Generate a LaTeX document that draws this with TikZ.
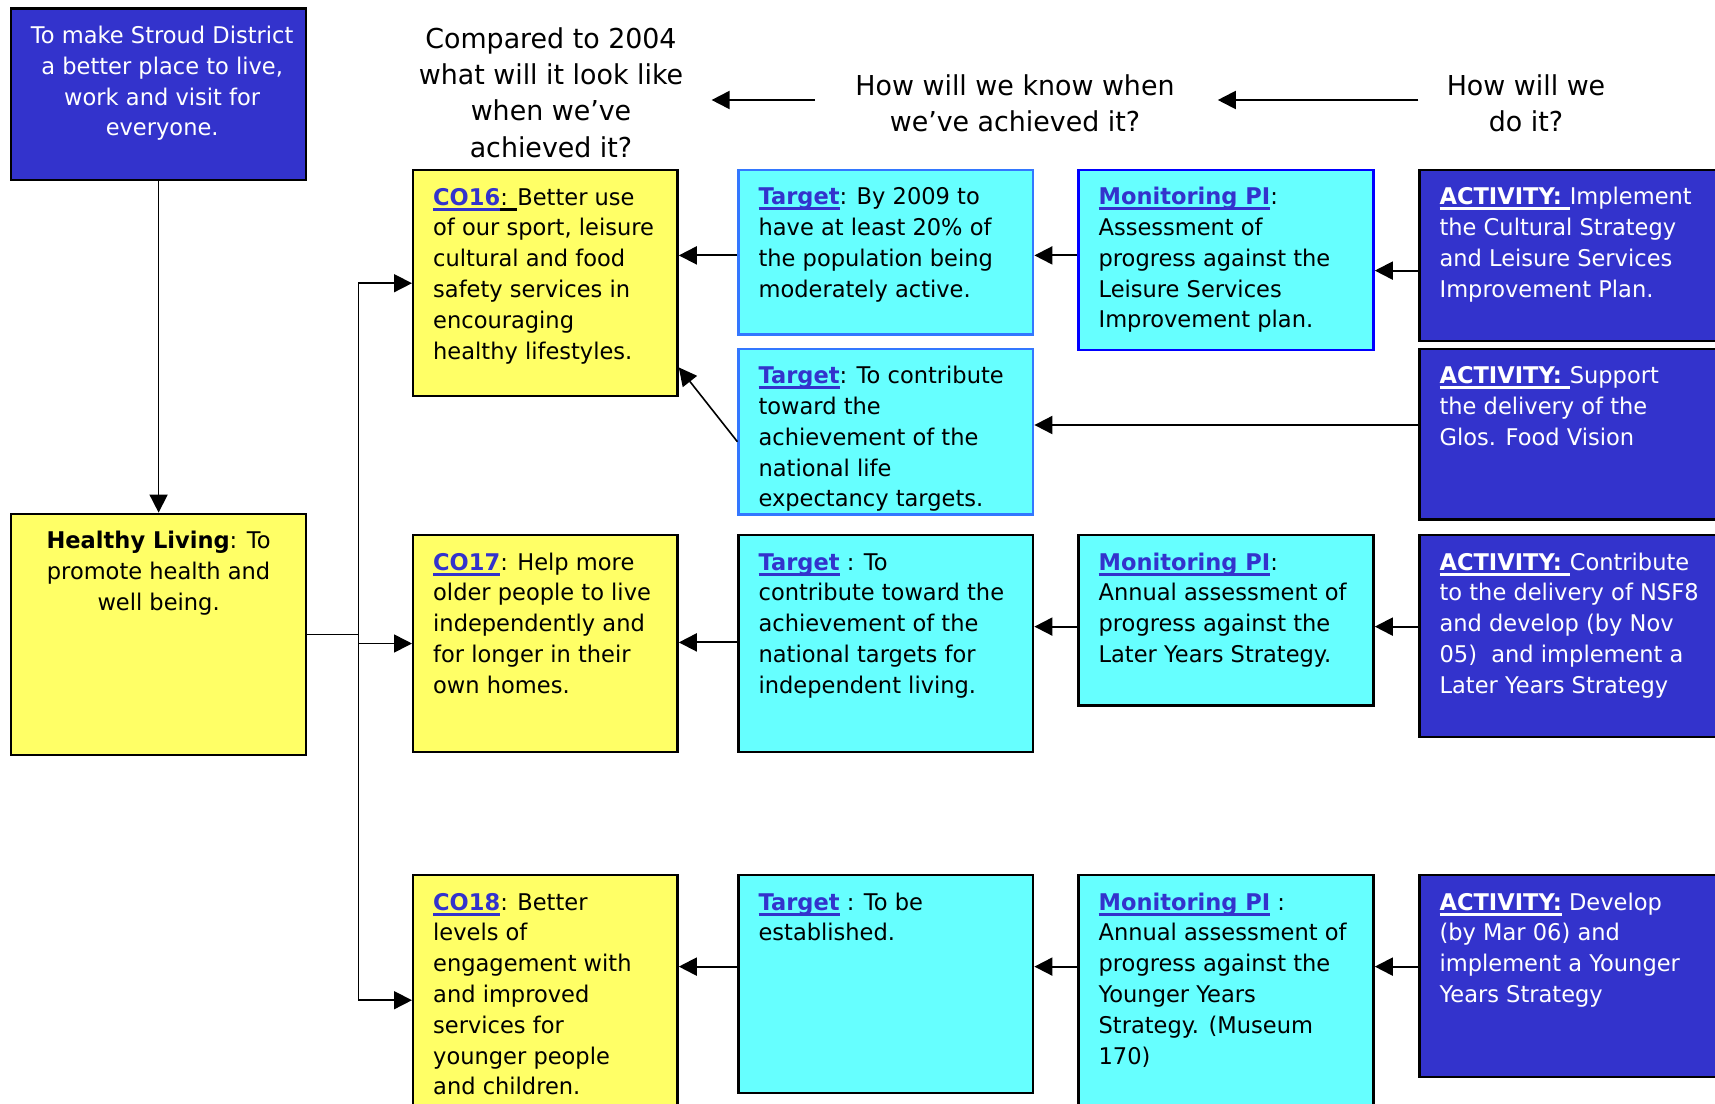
\documentclass[tikz,border=0pt]{standalone}
\usepackage{fontspec}
\setmainfont{DejaVu Sans}[FakeStretch=0.98]
\usetikzlibrary{arrows.meta}
\definecolor{actblue}{HTML}{3333CC}
\definecolor{yel}{HTML}{FFFF66}
\definecolor{cyn}{HTML}{66FFFF}
\definecolor{tgtborder}{HTML}{3377FF}
\definecolor{monborder}{HTML}{0000FF}
\newcommand\myul[1]{\setbox0=\hbox{#1}\leavevmode\rlap{\rule[-2.7pt]{\wd0}{1.4pt}}\box0}
\newcommand\lk[1]{{\color{actblue}\myul{\textbf{#1}}}}
\newcommand\act{\textbf{\myul{ACTIVITY:\ }}}
% name, style, x1, y1, x2, y2, column type, lines
\newcommand\mkbox[8]{%
  \node[#2, anchor=north west, inner xsep=10pt, inner ysep=0pt] (#1) at (#3,#4)
  {\parbox[c][\dimexpr #6pt-#4pt\relax][t]{\dimexpr #5pt-#3pt-20pt\relax}{\if c#7\centering\fi\vspace*{6.7pt}\begin{tabular}[t]{@{}#7@{}}#8\end{tabular}}};}
\tikzset{
  boxbase/.style={rectangle, draw, line width=1.2pt, font=\fontsize{11.5}{15.4}\selectfont},
  goalbox/.style={boxbase, fill=actblue, text=white, draw=black},
  yelbox/.style={boxbase, fill=yel},
  cynbox/.style={boxbase, fill=cyn},
  tgtbox/.style={cynbox, draw=tgtborder},
  monbox/.style={cynbox, draw=monborder},
  actbox/.style={boxbase, fill=actblue, text=white},
  hdr/.style={font=\fontsize{13.7}{18.1}\selectfont, inner sep=0pt, anchor=base},
  arr/.style={-{Triangle[length=9pt,width=9pt]}, line width=1pt},
  thinln/.style={line width=0.8pt},
}
\begin{document}
\begin{tikzpicture}[x=1pt,y=-1pt]
\useasboundingbox (0,0) rectangle (857.5,552);
% headers
\node[hdr] (h1) at (275.5,24.2) {\begin{tabular}[t]{@{}c@{}}Compared to 2004\\ what will it look like\\ when we’ve\\ achieved it?\end{tabular}};
\node[hdr] (h2) at (507.5,47.5) {\begin{tabular}[t]{@{}c@{}}How will we know when\\ we’ve achieved it?\end{tabular}};
\node[hdr] (h3) at (763,47.5) {\begin{tabular}[t]{@{}c@{}}How will we\\ do it?\end{tabular}};
\coordinate (h1from) at (407.5,50);
\coordinate (h1to) at (355.8,50);
\coordinate (h2from) at (709.2,50);
\coordinate (h2to) at (608.9,50);
\draw[arr] (h1from) -- (h1to);
\draw[arr] (h2from) -- (h2to);
% boxes
\mkbox{top}{goalbox}{4.9}{3.7}{152.5}{89.5}{c}{To make Stroud District\\ a better place to live,\\ work and visit for\\ everyone.}
\mkbox{HL}{yelbox}{4.9}{256.3}{152.5}{377}{c}{\textbf{Healthy Living}: To\\ promote health and\\ well being.}
\mkbox{CO16}{yelbox}{206}{84.5}{338.2}{197.5}{l}{\lk{CO16}\myul{: }Better use\\ of our sport, leisure\\ cultural and food\\ safety services in\\ encouraging\\ healthy lifestyles.}
\mkbox{CO17}{yelbox}{206}{267}{338.2}{375.3}{l}{\lk{CO17}: Help more\\ older people to live\\ independently and\\ for longer in their\\ own homes.}
\mkbox{CO18}{yelbox}{206}{437}{338.2}{562}{l}{\lk{CO18}: Better\\ levels of\\ engagement with\\ and improved\\ services for\\ younger people\\ and children.}
\mkbox{T1}{tgtbox}{368.7}{84.3}{516}{166.7}{l}{\lk{Target}: By 2009 to\\ have at least 20\% of\\ the population being\\ moderately active.}
\mkbox{T2}{tgtbox}{368.7}{173.8}{516}{256.7}{l}{\lk{Target}: To contribute\\ toward the\\ achievement of the\\ national life\\ expectancy targets.}
\mkbox{T3}{cynbox}{368.7}{267}{516}{375.5}{l}{\lk{Target} : To\\ contribute toward the\\ achievement of the\\ national targets for\\ independent living.}
\mkbox{T4}{cynbox}{368.7}{437}{516}{545.8}{l}{\lk{Target} : To be\\ established.}
\mkbox{M1}{monbox}{538.7}{84.3}{686.2}{174.5}{l}{\lk{Monitoring PI}:\\ Assessment of\\ progress against the\\ Leisure Services\\ Improvement plan.}
\mkbox{M2}{cynbox}{538.7}{267}{686.2}{352.2}{l}{\lk{Monitoring PI}:\\ Annual assessment of\\ progress against the\\ Later Years Strategy.}
\mkbox{M3}{cynbox}{538.7}{437}{686.2}{562}{l}{\lk{Monitoring PI} :\\ Annual assessment of\\ progress against the\\ Younger Years\\ Strategy. (Museum\\ 170)}
\mkbox{A1}{actbox}{709.2}{84.3}{866}{170}{l}{\act Implement\\ the Cultural Strategy\\ and Leisure Services\\ Improvement Plan.}
\mkbox{A2}{actbox}{709.2}{173.8}{866}{259.2}{l}{\act Support\\ the delivery of the\\ Glos. Food Vision}
\mkbox{A3}{actbox}{709.2}{267}{866}{367.9}{l}{\act Contribute\\ to the delivery of NSF8\\ and develop (by Nov\\ 05)\ \ and implement a\\ Later Years Strategy}
\mkbox{A4}{actbox}{709.2}{437}{866}{538}{l}{\textbf{\myul{ACTIVITY:}} Develop\\ (by Mar 06) and\\ implement a Younger\\ Years Strategy}
% row levels
\coordinate (bus) at (179.2,0);
\coordinate (r1) at (0,127.7);
\coordinate (r1b) at (0,135.3);
\coordinate (r2) at (0,212.5);
\coordinate (r3) at (0,321.2);
\coordinate (r3b) at (0,313.3);
\coordinate (r4) at (0,483.3);
% connectors
\draw[arr,thinln] (top) -- (HL);
\draw[thinln] (HL.east) -- (HL.east -| bus);
\draw[arr,thinln] (HL.east -| bus) |- (CO16.west);
\draw[arr,thinln] (HL.east -| bus) |- (CO17.west);
\draw[arr,thinln] (HL.east -| bus) |- (CO18.west);
\draw[arr] (T1.west |- r1) -- (CO16.east |- r1);
\draw[arr] (M1.west |- r1) -- (T1.east |- r1);
\draw[arr] (A1.west |- r1b) -- (M1.east |- r1b);
\draw[arr,thinln] ([yshift=-5pt]T2.west) -- ([yshift=15pt]CO16.south east);
\draw[arr] (A2.west |- r2) -- (T2.east |- r2);
\draw[arr] (T3.west |- r3) -- (CO17.east |- r3);
\draw[arr] (M2.west |- r3b) -- (T3.east |- r3b);
\draw[arr] (A3.west |- r3b) -- (M2.east |- r3b);
\draw[arr] (T4.west |- r4) -- (CO18.east |- r4);
\draw[arr] (M3.west |- r4) -- (T4.east |- r4);
\draw[arr] (A4.west |- r4) -- (M3.east |- r4);
\end{tikzpicture}
\end{document}
